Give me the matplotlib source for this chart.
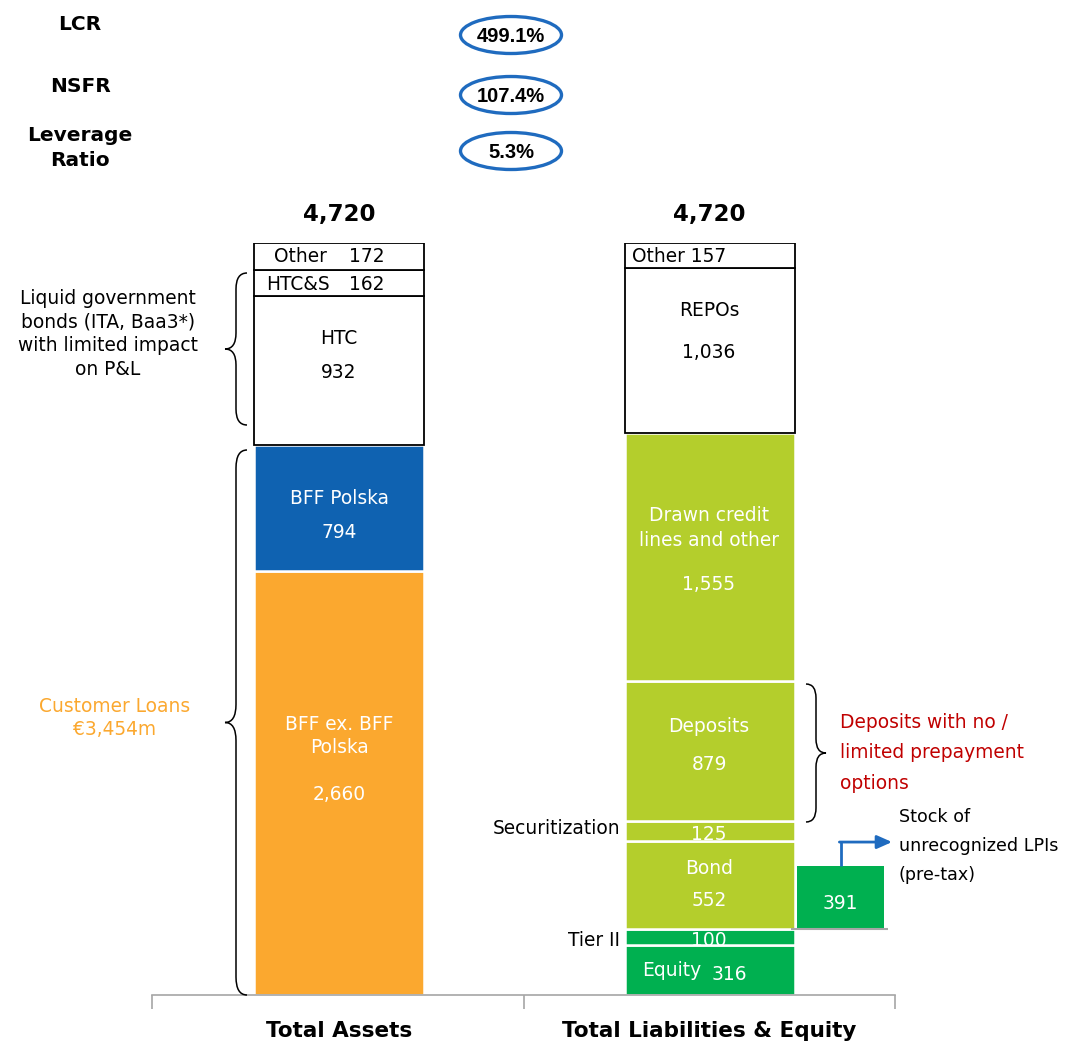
import matplotlib
matplotlib.use("Agg")
import matplotlib.pyplot as plt
from matplotlib.patches import Ellipse, PathPatch
from matplotlib.path import Path

# ---------------- data ----------------
categories = ["Total Assets", "Total Liabilities & Equity"]
totals = [4720, 4720]

asset_names = ["BFF ex. BFF\nPolska", "BFF Polska", "HTC", "HTC&S", "Other"]
asset_values = [2660, 794, 932, 162, 172]

liab_names = ["Equity", "Tier II", "Bond", "Securitization", "Deposits",
              "Drawn credit\nlines and other", "REPOs", "Other"]
liab_values = [316, 100, 552, 125, 879, 1555, 1036, 157]

lpi_value = 391

ratio_names = ["LCR", "NSFR", "Leverage\nRatio"]
ratio_values = ["499.1%", "107.4%", "5.3%"]

customer_loans_label = "Customer Loans\n€3,454m"
gov_bonds_label = "Liquid government\nbonds (ITA, Baa3*)\nwith limited impact\non P&L"
deposits_note = "Deposits with no /\nlimited prepayment\noptions"
lpi_note = "Stock of\nunrecognized LPIs\n(pre-tax)"

# ---------------- style ----------------
ORANGE = "#FBA82F"
BLUE = "#0F62B1"
LIME = "#B4CE2C"
GREEN = "#00B050"
RED = "#C00000"
EBLUE = "#1F6BBF"
GREY = "#A6A6A6"

asset_colors = [ORANGE, BLUE, "white", "white", "white"]
liab_colors = [GREEN, GREEN, LIME, LIME, LIME, LIME, "white", "white"]

FONT = "DejaVu Sans"
FS = 13.4
plt.rcParams["font.family"] = [FONT]

W, H = 1066, 1044
fig = plt.figure(figsize=(W / 100, H / 100), dpi=100)

# main axes: x=0 bar at px 339, x=1 bar at px 709.5
px_per_x = 370.5
x_left = -(339 - 152) / px_per_x
x_right = 1 + (895 - 709.5) / px_per_x
ax = fig.add_axes([152 / W, (H - 995) / H, 743 / W, 752 / H])
ax.set_xlim(x_left, x_right)
ax.set_ylim(0, totals[0])
bw = 170 / px_per_x


def stack(xpos, values, colors):
    bottom = 0
    for v, c in zip(values, colors):
        if c == "white":
            ax.bar(xpos, v, bw, bottom=bottom, color="white", edgecolor="black",
                   linewidth=1.3, zorder=2)
        else:
            ax.bar(xpos, v, bw, bottom=bottom, color=c, edgecolor="white",
                   linewidth=1.8, zorder=2)
        bottom += v


stack(0, asset_values, asset_colors)
stack(1, liab_values, liab_colors)

# LPI box
lpi_x = 1 + (840.5 - 709.5) / px_per_x
lpi_w = 87 / px_per_x
lpi_bottom = liab_values[0] + liab_values[1]
ax.bar(lpi_x, lpi_value, lpi_w, bottom=lpi_bottom, color=GREEN, edgecolor="none", zorder=2)
ax.hlines(lpi_bottom, 1 + bw / 2 - 0.01, lpi_x + lpi_w / 2 + 0.012, color=GREY, lw=1.5, zorder=3)
ax.text(lpi_x, lpi_bottom + lpi_value * 0.40, str(lpi_value), color="white",
        ha="center", va="center", fontsize=FS)
# arrow
arrow_y = 960
ax.plot([lpi_x, lpi_x], [lpi_bottom + lpi_value, arrow_y], color=EBLUE, lw=2, zorder=3,
        solid_capstyle="butt")
ax.annotate("", xy=(1 + (892 - 709.5) / px_per_x, arrow_y), xytext=(lpi_x - 0.003, arrow_y),
            arrowprops=dict(arrowstyle="-|>,head_length=0.9,head_width=0.4", color=EBLUE, lw=2,
                            shrinkA=0, shrinkB=0))

# totals
for i, t in enumerate(totals):
    ax.text(i, t + 180, f"{t:,}", ha="center", va="center", fontsize=16.5, fontweight="bold")

# spines / ticks
for s in ["top", "right", "left"]:
    ax.spines[s].set_visible(False)
ax.spines["bottom"].set_color(GREY)
ax.spines["bottom"].set_linewidth(1.2)
ax.set_yticks([])
ax.set_xticks([0, 1])
ax.set_xticklabels(categories, fontsize=15.5, fontweight="bold")
ax.tick_params(axis="x", which="major", length=0, pad=19)
ax.set_xticks([x_left, 0.5, x_right], minor=True)
ax.tick_params(axis="x", which="minor", length=10, color=GREY, width=1.2)
ax.patch.set_visible(False)

# ---------------- overlay in pixel coordinates ----------------
ov = fig.add_axes([0, 0, 1, 1])
ov.set_xlim(0, W)
ov.set_ylim(H, 0)
ov.axis("off")
ov.patch.set_visible(False)


def txt(x, y, s, **kw):
    kw.setdefault("fontsize", FS)
    kw.setdefault("ha", "center")
    kw.setdefault("va", "center")
    ov.text(x, y, s, **kw)


# ratios
ratio_y = [25, 86, 148]
ell_y = [35, 95, 151]
for name, val, ry, ey in zip(ratio_names, ratio_values, ratio_y, ell_y):
    txt(80, ry, name, fontsize=14.5, fontweight="bold", linespacing=1.4)
    ov.add_patch(Ellipse((511, ey), 101, 37, facecolor="none", edgecolor=EBLUE, lw=2.4))
    txt(511, ey + 1, val, fontsize=14.5, fontweight="bold", family="Liberation Sans")

# left bar labels
txt(300, 256, "Other")
txt(367, 257, str(asset_values[4]))
txt(298, 284, "HTC&S")
txt(367, 285, str(asset_values[3]))
txt(339, 338, asset_names[2])
txt(339, 373, f"{asset_values[2]:,}")
txt(339, 498, asset_names[1], color="white")
txt(339, 533, f"{asset_values[1]:,}", color="white")
txt(339, 736, asset_names[0], color="white", linespacing=1.3)
txt(339, 795, f"{asset_values[0]:,}", color="white")

# right bar labels
txt(632, 256, f"{liab_names[7]} {liab_values[7]}", ha="left")
txt(709, 311, liab_names[6])
txt(709, 352, f"{liab_values[6]:,}")
txt(709, 528, liab_names[5], color="white", linespacing=1.35)
txt(709, 585, f"{liab_values[5]:,}", color="white")
txt(709, 726, liab_names[4], color="white")
txt(709, 765, f"{liab_values[4]:,}", color="white")
txt(709, 834, f"{liab_values[3]:,}", color="white")
txt(620, 829, liab_names[3], ha="right")
txt(709, 868, liab_names[2], color="white")
txt(709, 901, f"{liab_values[2]:,}", color="white")
txt(709, 941, f"{liab_values[1]:,}", color="white")
txt(620, 940, liab_names[1], ha="right")
txt(672, 970, liab_names[0], color="white")
txt(729, 974, f"{liab_values[0]:,}", color="white")

# side notes
txt(108, 334, gov_bonds_label, linespacing=1.3)
txt(115, 718, customer_loans_label, color=ORANGE, linespacing=1.3)
txt(840, 753, deposits_note, color=RED, ha="left", linespacing=1.75)
txt(899, 846, lpi_note, ha="left", linespacing=1.8, fontsize=12.6)


def brace(x, y0, y1, depth, r=14, lw=1.1):
    """Curly brace; depth<0 tip points left, >0 tip points right."""
    ym = (y0 + y1) / 2
    xm = x + depth / 2
    xt = x + depth
    verts = [(x, y0), (xm, y0), (xm, y0 + r),
             (xm, ym - r), (xm, ym), (xt, ym),
             (xm, ym), (xm, ym + r),
             (xm, y1 - r), (xm, y1), (x, y1)]
    codes = [Path.MOVETO, Path.CURVE3, Path.CURVE3,
             Path.LINETO, Path.CURVE3, Path.CURVE3,
             Path.CURVE3, Path.CURVE3,
             Path.LINETO, Path.CURVE3, Path.CURVE3]
    ov.add_patch(PathPatch(Path(verts, codes), facecolor="none", edgecolor="black", lw=lw))


brace(247, 273, 425, -22, r=16)
brace(247, 450, 995, -22, r=18)
brace(806, 684, 822, 20, r=14)

fig.savefig("out.png", dpi=100)
